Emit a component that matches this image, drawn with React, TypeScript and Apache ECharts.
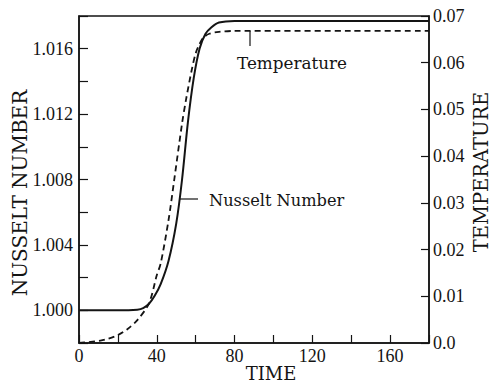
import React, { useEffect, useRef } from "react";
import * as echarts from "echarts";

const nuTime = [0, 10, 20, 30, 33, 36, 39, 42, 46, 50, 53, 56, 59, 62, 65, 68, 72, 80, 100, 140, 180];
const nuValues = [1.0, 1.0, 1.0, 1.00004, 1.00013, 1.0004, 1.0009, 1.0016, 1.003, 1.0053, 1.008, 1.0115, 1.0142, 1.0160, 1.0169, 1.0173, 1.0176, 1.0177, 1.0177, 1.0177, 1.0177];

const tempTime = [0, 5, 11, 15, 20, 25, 30, 36, 40, 42, 46, 49, 53, 55, 58, 60, 62, 64, 67, 72, 80, 100, 140, 180];
const tempValues = [0, 0.0002, 0.0005, 0.0009, 0.0017, 0.003, 0.0049, 0.0085, 0.0145, 0.017, 0.0262, 0.035, 0.047, 0.052, 0.0585, 0.062, 0.064, 0.0654, 0.0662, 0.0666, 0.0668, 0.0668, 0.0668, 0.0668];

const leftLabels = ["1.000", "1.004", "1.008", "1.012", "1.016"];
const rightLabels = ["0.0", "0.01", "0.02", "0.03", "0.04", "0.05", "0.06", "0.07"];
const xLabels = ["0", "40", "80", "120", "160"];

const TICKFONT = "Liberation Serif";
const FONT = "DejaVu Serif";
const INK = "#141414";

export default function App() {
  const ref = useRef<HTMLDivElement>(null);
  useEffect(() => {
    if (!ref.current) return;
    const chart = echarts.init(ref.current, undefined, { renderer: "svg" });
    const fmtLeft = (v: number) => {
      const s = v.toFixed(3);
      return leftLabels.includes(s) ? s : "";
    };
    const fmtRight = (v: number) => {
      const s = v === 0 ? "0.0" : v.toFixed(2);
      return rightLabels.includes(s) ? s : "";
    };
    const fmtX = (v: number) => {
      const s = String(Math.round(v));
      return xLabels.includes(s) ? s : "";
    };
    chart.setOption({
      animation: false,
      backgroundColor: "#fff",
      grid: { left: 79, right: 63, top: 16, bottom: 41, show: true, borderColor: INK, borderWidth: 1.5, backgroundColor: "transparent" },
      xAxis: {
        type: "value",
        min: 0,
        max: 180,
        interval: 20,
        axisLine: { show: true, lineStyle: { color: INK, width: 1.5 } },
        axisTick: { show: true, inside: true, length: 8, lineStyle: { color: INK, width: 1.2 } },
        axisLabel: { formatter: fmtX, color: INK, fontFamily: TICKFONT, fontSize: 18, margin: 4 },
        splitLine: { show: false },
      },
      yAxis: [
        {
          type: "value",
          min: 0.998,
          max: 1.018,
          interval: 0.002,
          position: "left",
          axisLine: { show: true, lineStyle: { color: INK, width: 1.5 } },
          axisTick: { show: true, inside: true, length: 9, lineStyle: { color: INK, width: 1.2 } },
          axisLabel: { formatter: fmtLeft, color: INK, fontFamily: TICKFONT, fontSize: 18, margin: 6 },
          splitLine: { show: false },
        },
        {
          type: "value",
          min: 0,
          max: 0.07,
          interval: 0.01,
          position: "right",
          axisLine: { show: true, lineStyle: { color: INK, width: 1.5 } },
          axisTick: { show: true, inside: true, length: 8, lineStyle: { color: INK, width: 1.2 } },
          axisLabel: { formatter: fmtRight, color: INK, fontFamily: TICKFONT, fontSize: 18, margin: 4 },
          splitLine: { show: false },
        },
      ],
      series: [
        {
          name: "Nusselt Number",
          type: "line",
          yAxisIndex: 0,
          data: nuTime.map((t, i) => [t, nuValues[i]]),
          smooth: 0.3,
          showSymbol: false,
          lineStyle: { color: INK, width: 2 },
        },
        {
          name: "Temperature",
          type: "line",
          yAxisIndex: 1,
          data: tempTime.map((t, i) => [t, tempValues[i]]),
          smooth: 0.3,
          showSymbol: false,
          lineStyle: { color: INK, width: 1.8, type: [6, 4] },
        },
      ],
      graphic: [
        {
          type: "text",
          x: 20,
          y: 193,
          rotation: Math.PI / 2,
          style: { text: "NUSSELT NUMBER", fill: INK, font: `20px '${FONT}'`, align: "center", verticalAlign: "middle" },
        },
        {
          type: "text",
          x: 481,
          y: 172,
          rotation: Math.PI / 2,
          style: { text: "TEMPERATURE", fill: INK, font: `19.5px '${FONT}'`, align: "center", verticalAlign: "middle" },
        },
        {
          type: "text",
          x: 271,
          y: 373,
          style: { text: "TIME", fill: INK, font: `18px '${FONT}'`, align: "center", verticalAlign: "middle" },
        },
        {
          type: "text",
          x: 237,
          y: 63,
          style: { text: "Temperature", fill: INK, font: `16.8px '${FONT}'`, align: "left", verticalAlign: "middle" },
        },
        {
          type: "line",
          shape: { x1: 250, y1: 31, x2: 250, y2: 46 },
          style: { stroke: INK, lineWidth: 1.2 },
        },
        {
          type: "text",
          x: 209,
          y: 200,
          style: { text: "Nusselt Number", fill: INK, font: `16.2px '${FONT}'`, align: "left", verticalAlign: "middle" },
        },
        {
          type: "line",
          shape: { x1: 180, y1: 199, x2: 198, y2: 199 },
          style: { stroke: INK, lineWidth: 1.2 },
        },
      ],
    });
    return () => chart.dispose();
  }, []);
  return <div ref={ref} style={{ width: 492, height: 384, position: "absolute", left: 0, top: 0 }} />;
}
